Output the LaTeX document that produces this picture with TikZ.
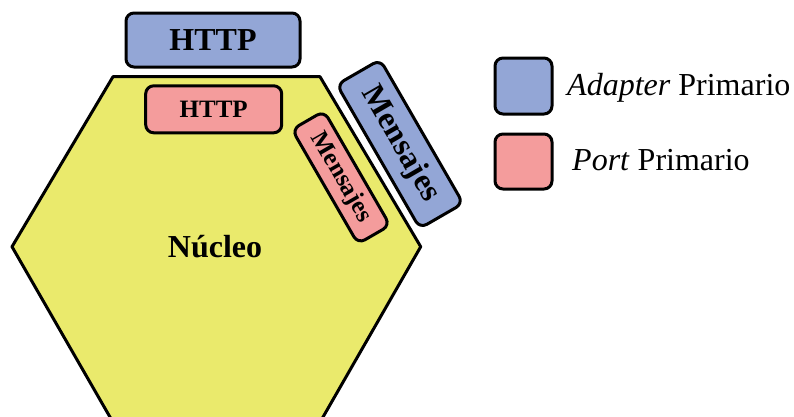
\documentclass[tikz,border=0pt]{standalone}
\usepackage{fontspec}
\setmainfont{Liberation Serif}
\definecolor{adapterblue}{HTML}{93A6D6}
\definecolor{portred}{HTML}{F49C9C}
\definecolor{coreyellow}{HTML}{EAEA6C}
\tikzset{
  edge/.style={draw=black, line width=3pt, line join=round},
  adapterbox/.style={edge, fill=adapterblue, rounded corners=8pt, inner sep=0pt,
    font=\fontsize{32}{36}\selectfont\bfseries},
  portbox/.style={edge, fill=portred, rounded corners=8pt, inner sep=0pt,
    font=\fontsize{25}{29}\selectfont\bfseries},
  legendtext/.style={anchor=base west, inner sep=0pt, font=\fontsize{32}{36}\selectfont},
}
\begin{document}
\begin{tikzpicture}[x=1pt, y=-1pt]
  \useasboundingbox (0,0) rectangle (794,416);

  % hexagonal core (its lower edge runs just below the frame)
  \begin{scope}
    \clip (0,0) rectangle (794,416);
    \draw[edge, fill=coreyellow] (113,76.7) -- (320,76.7) -- (420.7,246.7)
      -- (321.6,419.5) -- (111.4,419.5) -- (12,246.7) -- cycle;
  \end{scope}
  \node[font=\fontsize{32}{36}\selectfont\bfseries] (core) at (215,247) {Núcleo};

  % adapters and ports
  \node[adapterbox, minimum width=174pt, minimum height=54pt] (httpA) at (213,40) {HTTP};
  \node[portbox, minimum width=136pt, minimum height=47pt] (httpP) at (213.7,109.3) {HTTP};
  \node[adapterbox, rotate=-60, minimum width=166pt, minimum height=50pt] (msgA) at (400,144) {Mensajes};
  \node[portbox, rotate=-60, minimum width=132pt, minimum height=37pt] (msgP) at (341,177.4) {Mensajes};

  % legend
  \node[edge, fill=adapterblue, rounded corners=8pt, minimum width=57pt, minimum height=56pt, inner sep=0pt] (legA) at (523.5,86) {};
  \node[edge, fill=portred, rounded corners=8pt, minimum width=57pt, minimum height=55pt, inner sep=0pt] (legP) at (523.5,161.5) {};
  \node[legendtext] (legAt) at (567,95) {\textit{Adapter} Primario};
  \node[legendtext] (legPt) at (572,170) {\textit{Port} Primario};
\end{tikzpicture}
\end{document}
